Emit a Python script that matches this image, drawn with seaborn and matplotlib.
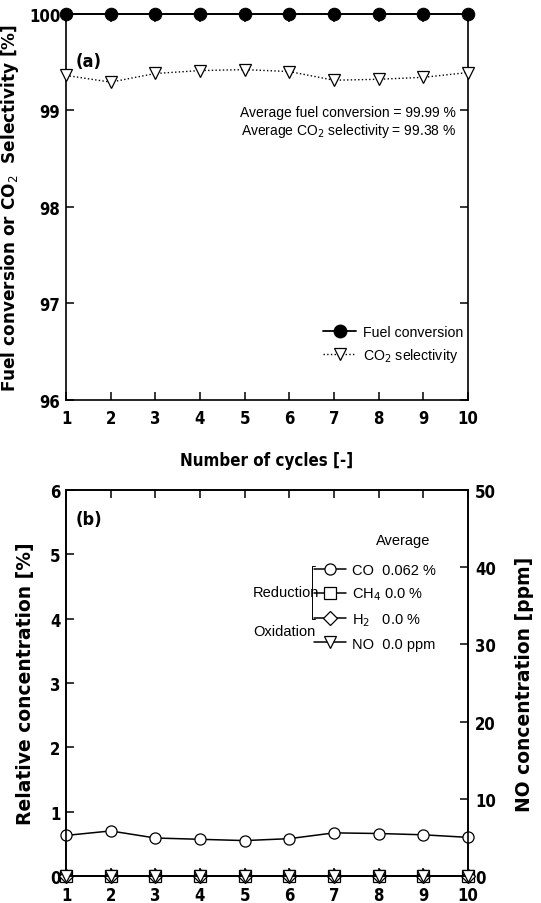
import matplotlib
matplotlib.use("Agg")
import matplotlib.pyplot as plt
from matplotlib.lines import Line2D
import seaborn as sns
import pandas as pd

# Data
cycles = [1, 2, 3, 4, 5, 6, 7, 8, 9, 10]
fuel_conversion = [100.0, 100.0, 100.0, 100.0, 100.0, 100.0, 100.0, 100.0, 100.0, 100.0]
co2_selectivity = [99.36, 99.29, 99.38, 99.41, 99.42, 99.40, 99.31, 99.32, 99.34, 99.39]
co_conc = [0.63, 0.70, 0.59, 0.57, 0.55, 0.58, 0.67, 0.66, 0.64, 0.60]
ch4_conc = [0, 0, 0, 0, 0, 0, 0, 0, 0, 0]
h2_conc = [0, 0, 0, 0, 0, 0, 0, 0, 0, 0]
no_ppm = [0, 0, 0, 0, 0, 0, 0, 0, 0, 0]

sns.set_style("ticks")
plt.rcParams['font.family'] = ['DejaVu Sans']
plt.rcParams['xtick.direction'] = 'in'
plt.rcParams['ytick.direction'] = 'in'
plt.rcParams['axes.linewidth'] = 1.2
for k in ['text.color', 'axes.labelcolor', 'xtick.color', 'ytick.color', 'axes.edgecolor']:
    plt.rcParams[k] = 'black'

INNER = ['Liberation Sans', 'DejaVu Sans']
TICKFONT = dict(family='DejaVu Sans', weight='bold', stretch='condensed', size=12)

df_a = pd.DataFrame({'cycle': cycles, 'fuel': fuel_conversion, 'co2': co2_selectivity})
df_b = pd.DataFrame({'cycle': cycles, 'co': co_conc, 'ch4': ch4_conc, 'h2': h2_conc, 'no': no_ppm})

fig = plt.figure(figsize=(5.41, 9.04), dpi=100)
ax1 = fig.add_axes([0.122, 0.5568, 0.743, 0.427])
ax2 = fig.add_axes([0.122, 0.0299, 0.743, 0.427])

# ---- panel (a)
sns.lineplot(data=df_a, x='cycle', y='fuel', ax=ax1, color='black', lw=1.3,
             marker='o', markersize=9, markerfacecolor='black', markeredgecolor='black',
             clip_on=False, zorder=5)
sns.lineplot(data=df_a, x='cycle', y='co2', ax=ax1, color='black', lw=1.0, linestyle=':',
             marker='v', markersize=9, markerfacecolor='white', markeredgecolor='black',
             markeredgewidth=0.9, clip_on=False, zorder=5)
ax1.set_xlim(1, 10)
ax1.set_ylim(96, 100)
ax1.set_xticks(cycles)
ax1.set_yticks([96, 97, 98, 99, 100])
ax1.tick_params(axis='both', which='both', top=True, right=True, length=6, width=1.1)
ax1.tick_params(axis='x', pad=7)
ax1.tick_params(axis='y', pad=4)
for lab in ax1.get_xticklabels() + ax1.get_yticklabels():
    lab.set(**TICKFONT)
ax1.set_xlabel("Number of cycles [-]", fontsize=12.2, fontweight='bold', fontstretch='condensed',
               labelpad=17)
ax1.set_ylabel("Fuel conversion or CO$_2$  Selectivity [%]", fontsize=12.2,
               fontweight='bold', labelpad=6)
ax1.text(0.025, 0.877, "(a)", transform=ax1.transAxes, fontsize=13, fontweight='bold',
         fontstretch='condensed', va='center')
ax1.text(0.97, 0.745, "Average fuel conversion = 99.99 %", transform=ax1.transAxes,
         fontsize=10, family=INNER, ha='right', va='center')
ax1.text(0.97, 0.698, "Average CO$_2$ selectivity = 99.38 %", transform=ax1.transAxes,
         fontsize=10, family=INNER, ha='right', va='center')
h_a = [Line2D([], [], color='black', lw=1.3, marker='o', markersize=9, markerfacecolor='black'),
       Line2D([], [], color='black', lw=1.0, linestyle=':', marker='v', markersize=9,
              markerfacecolor='white', markeredgewidth=0.9)]
ax1.legend(h_a, ["Fuel conversion", "CO$_2$ selectivity"], loc='lower right',
           bbox_to_anchor=(1.02, 0.06), frameon=False, handlelength=2.3, handletextpad=0.5,
           labelspacing=0.5, prop={'family': INNER, 'size': 10.2})

# ---- panel (b)
ax2r = ax2.twinx()
mk = dict(markersize=8, markerfacecolor='white', markeredgecolor='black',
          markeredgewidth=0.9, clip_on=False, zorder=5)
sns.lineplot(data=df_b, x='cycle', y='co', ax=ax2, color='black', lw=1.1, marker='o', **mk)
sns.lineplot(data=df_b, x='cycle', y='ch4', ax=ax2, color='black', lw=1.1, marker='s', **mk)
sns.lineplot(data=df_b, x='cycle', y='h2', ax=ax2, color='black', lw=1.1, marker='D',
             **{**mk, 'markersize': 7})
sns.lineplot(data=df_b, x='cycle', y='no', ax=ax2r, color='black', lw=1.1, marker='v', **mk)
ax2.set_xlim(1, 10)
ax2.set_ylim(0, 6)
ax2r.set_ylim(0, 50)
ax2.set_xticks(cycles)
ax2.set_yticks([0, 1, 2, 3, 4, 5, 6])
ax2r.set_yticks([0, 10, 20, 30, 40, 50])
ax2.tick_params(axis='both', which='both', top=True, right=False, length=6, width=1.1)
ax2.tick_params(axis='x', pad=7)
ax2.tick_params(axis='y', pad=4)
ax2r.tick_params(axis='y', direction='in', length=6, width=1.1, pad=5, colors='black')
for lab in ax2.get_xticklabels() + ax2.get_yticklabels() + ax2r.get_yticklabels():
    lab.set(**TICKFONT)
ax2.set_xlabel("")
ax2.set_ylabel("Relative concentration [%]", fontsize=13.5, fontweight='bold', labelpad=11)
ax2r.set_ylabel("NO concentration [ppm]", fontsize=13.5, fontweight='bold', labelpad=14)
ax2.text(0.025, 0.925, "(b)", transform=ax2.transAxes, fontsize=13, fontweight='bold',
         fontstretch='condensed', va='center')
ax2.text(0.84, 0.87, "Average", transform=ax2.transAxes, fontsize=10.5, family=INNER,
         ha='center', va='center')

h_b = [Line2D([], [], color='black', lw=1.1, marker=m, markersize=s, markerfacecolor='white',
              markeredgewidth=0.9) for m, s in [('o', 8), ('s', 8), ('D', 7), ('v', 8)]]
ax2.legend(h_b, ["CO  0.062 %", "CH$_4$ 0.0 %", "H$_2$   0.0 %", "NO  0.0 ppm"],
           loc='upper left', bbox_to_anchor=(0.585, 0.845), frameon=False,
           handlelength=2.2, handletextpad=0.4, labelspacing=0.6,
           prop={'family': INNER, 'size': 10.5})
ax2.text(0.465, 0.735, "Reduction", transform=ax2.transAxes, fontsize=10.5, family=INNER,
         ha='left', va='center')
ax2.text(0.465, 0.635, "Oxidation", transform=ax2.transAxes, fontsize=10.5, family=INNER,
         ha='left', va='center')
bx = 0.612
ax2.plot([bx + 0.008, bx, bx, bx + 0.008], [0.804, 0.804, 0.667, 0.667],
         transform=ax2.transAxes, color='black', lw=0.7, clip_on=False)

fig.savefig("out.png", dpi=100)
